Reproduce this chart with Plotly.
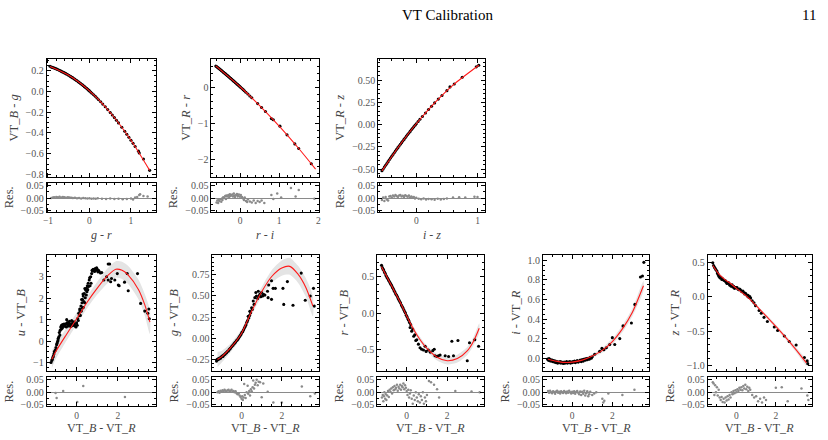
import plotly.graph_objects as go

W, H = 828, 440
FONT = "Liberation Serif, DejaVu Serif, serif"

# ---------------- data ----------------
# Panel 1: g - r  vs  VT_B - g
p1_x = [-0.95,-0.92,-0.9,-0.88,-0.85,-0.83,-0.8,-0.78,-0.75,-0.72,-0.7,-0.68,-0.65,-0.62,-0.6,-0.57,-0.55,-0.52,-0.5,-0.47,-0.45,-0.42,-0.4,-0.37,-0.35,-0.32,-0.3,-0.27,-0.25,-0.22,-0.2,-0.17,-0.15,-0.12,-0.1,-0.07,-0.05,-0.02,0,0.03,0.06,0.1,0.14,0.18,0.22,0.27,0.32,0.38,0.44,0.5,0.55,0.6,0.65,0.7,0.78,0.85,0.9,0.95,1.0,1.05,1.1,1.18,1.2,1.3,1.45]
p1_y = [0.242,0.235,0.232,0.229,0.225,0.222,0.217,0.213,0.208,0.202,0.198,0.194,0.188,0.182,0.178,0.171,0.167,0.160,0.155,0.148,0.142,0.135,0.130,0.122,0.116,0.108,0.102,0.093,0.087,0.078,0.072,0.063,0.056,0.046,0.040,0.030,0.023,0.012,0.005,-0.006,-0.017,-0.032,-0.047,-0.063,-0.080,-0.100,-0.122,-0.148,-0.175,-0.203,-0.227,-0.252,-0.277,-0.303,-0.345,-0.384,-0.412,-0.441,-0.470,-0.500,-0.530,-0.575,-0.593,-0.650,-0.760]
p1_fit_x = [-0.95,-0.5,0.0,0.5,1.0,1.45]
p1_fit_y = [0.239,0.155,0.005,-0.203,-0.470,-0.760]
p1_res_x = [-0.92,-0.88,-0.85,-0.8,-0.76,-0.72,-0.68,-0.64,-0.6,-0.56,-0.52,-0.48,-0.44,-0.4,-0.35,-0.3,-0.25,-0.2,-0.15,-0.1,-0.05,0,0.05,0.1,0.15,0.2,0.3,0.4,0.5,0.6,0.7,0.8,0.9,1.0,1.05,1.1,1.15,1.2,1.22,1.3,1.4]
p1_res_y = [0.0,0.002,0.003,0.004,0.003,0.005,0.002,0.004,0.003,0.001,0.003,0.002,0.001,0.0,0.001,-0.001,0.0,-0.002,0.0,-0.001,-0.002,-0.001,-0.003,-0.002,-0.003,-0.001,-0.003,-0.004,-0.002,-0.004,-0.003,-0.005,-0.004,-0.002,-0.006,0.002,0.004,0.012,0.015,0.008,0.006]

# Panel 2: r - i  vs  VT_R - r
p2_x = [-0.62,-0.6,-0.58,-0.56,-0.54,-0.52,-0.5,-0.48,-0.46,-0.44,-0.42,-0.4,-0.38,-0.36,-0.34,-0.32,-0.3,-0.28,-0.26,-0.24,-0.22,-0.2,-0.18,-0.16,-0.14,-0.12,-0.1,-0.08,-0.06,-0.04,-0.02,0,0.02,0.05,0.08,0.11,0.15,0.2,0.25,0.3,0.45,0.55,0.65,0.8,0.85,1.02,1.2,1.4,1.5,1.82]
p2_y = [0.602,0.584,0.566,0.549,0.531,0.513,0.495,0.477,0.459,0.441,0.422,0.404,0.386,0.367,0.348,0.330,0.311,0.292,0.273,0.254,0.235,0.216,0.197,0.177,0.158,0.139,0.119,0.099,0.080,0.060,0.040,0.020,0.0,-0.030,-0.061,-0.091,-0.132,-0.184,-0.236,-0.289,-0.450,-0.560,-0.672,-0.870,-0.902,-1.080,-1.324,-1.576,-1.705,-2.131]
p2_fit_x = [-0.62,0.0,0.5,1.0,1.5,1.93]
p2_fit_y = [0.602,0.02,-0.505,-1.08,-1.705,-2.28]
p2_res_x = [-0.6,-0.58,-0.56,-0.55,-0.53,-0.5,-0.48,-0.46,-0.45,-0.43,-0.4,-0.38,-0.36,-0.35,-0.33,-0.3,-0.28,-0.26,-0.25,-0.23,-0.2,-0.18,-0.16,-0.15,-0.13,-0.1,-0.08,-0.06,-0.05,-0.03,0,0.02,0.05,0.08,0.1,0.12,0.15,0.18,0.2,0.25,0.3,0.35,0.4,0.45,0.5,0.55,0.62,0.8,0.85,0.95,1.05,1.3,1.42,1.5,1.9]
p2_res_y = [-0.018,-0.01,-0.02,-0.008,-0.012,-0.005,-0.015,-0.002,-0.008,0.003,0.0,0.008,-0.004,0.01,0.006,0.012,0.004,0.015,0.008,0.01,0.014,0.006,0.018,0.01,0.004,0.012,0.016,0.006,0.01,0.014,0.005,0.012,0.004,-0.002,-0.008,0.002,-0.012,-0.016,-0.006,-0.014,-0.018,-0.01,-0.02,-0.012,-0.016,-0.01,-0.02,0.012,-0.004,0.018,0.002,0.04,0.006,0.032,-0.003]

# Panel 3: i - z  vs  VT_R - z
p3_x = [-0.56,-0.54,-0.52,-0.5,-0.48,-0.46,-0.44,-0.42,-0.4,-0.38,-0.36,-0.34,-0.32,-0.3,-0.28,-0.26,-0.24,-0.22,-0.2,-0.18,-0.16,-0.14,-0.12,-0.1,-0.08,-0.06,-0.04,-0.02,0,0.03,0.06,0.1,0.15,0.2,0.25,0.3,0.36,0.42,0.5,0.55,0.62,0.75,0.98,1.02]
p3_y = [-0.520,-0.499,-0.478,-0.458,-0.437,-0.417,-0.396,-0.376,-0.356,-0.337,-0.317,-0.298,-0.278,-0.259,-0.240,-0.221,-0.203,-0.184,-0.166,-0.147,-0.129,-0.111,-0.094,-0.076,-0.058,-0.041,-0.024,-0.007,0.010,0.035,0.060,0.092,0.132,0.170,0.208,0.245,0.288,0.329,0.383,0.425,0.458,0.533,0.651,0.669]
p3_fit_x = [-0.56,-0.25,0.0,0.3,0.6,1.02]
p3_fit_y = [-0.52,-0.212,0.01,0.245,0.446,0.669]
p3_res_x = [-0.56,-0.54,-0.52,-0.5,-0.48,-0.46,-0.44,-0.42,-0.4,-0.38,-0.36,-0.34,-0.32,-0.3,-0.28,-0.26,-0.24,-0.22,-0.2,-0.18,-0.16,-0.14,-0.12,-0.1,-0.08,-0.06,-0.04,-0.02,0,0.04,0.08,0.12,0.16,0.2,0.25,0.3,0.35,0.4,0.45,0.5,0.6,0.7,0.8,0.95,1.0]
p3_res_y = [-0.008,0.002,-0.012,0.004,-0.006,-0.01,0.006,0.008,0.002,0.01,0.006,0.012,0.008,0.004,0.01,0.012,0.006,0.009,0.004,0.011,0.008,0.005,0.01,0.003,0.006,0.002,0.004,-0.002,0.001,-0.003,-0.005,-0.002,-0.006,-0.004,-0.005,-0.007,-0.003,-0.006,-0.004,-0.002,0.002,0.003,0.002,0.005,0.004]

# Panel 4: VT_B - VT_R  vs  u - VT_B
p4_x = [-1.24,-1.2,-1.18,-1.15,-1.13,-1.1,-1.08,-1.05,-1.02,-1.0,-0.97,-0.95,-0.92,-0.9,-0.89,-0.86,-0.84,-0.81,-0.8,-0.77,-0.75,-0.73,-0.7,-0.68,-0.65,-0.61,-0.58,-0.56,-0.52,-0.5,-0.48,-0.45,-0.42,-0.4,-0.37,-0.35,-0.32,-0.29,-0.26,-0.24,-0.21,-0.19,-0.16,-0.13,-0.1,-0.07,-0.03,0.0,0.03,0.05,0.08,0.1,0.13,0.15,0.16,0.18,0.21,0.23,0.24,0.26,0.28,0.29,0.31,0.32,0.32,0.35,0.37,0.39,0.4,0.42,0.45,0.47,0.48,0.5,0.52,0.54,0.56,0.58,0.61,0.63,0.65,0.68,0.7,0.73,0.75,0.77,0.8,0.84,0.87,0.9,0.93,0.97,1.0,1.03,1.06,1.1,1.16,1.22,1.32,1.45,1.53,1.6,1.53,1.65,1.69,1.85,1.97,2.02,2.06,2.32,2.45,2.5,2.95,3.1,3.3,3.45,3.52,3.5]
p4_y = [-1.0,-0.9,-0.85,-0.75,-0.7,-0.6,-0.5,-0.45,-0.4,-0.3,-0.17,-0.1,-0.02,0.05,0.13,0.2,0.4,0.28,0.5,0.66,0.55,0.74,0.6,0.77,0.68,0.8,0.7,0.74,0.81,0.66,1.0,0.86,0.7,0.77,0.85,0.92,0.74,0.68,0.8,0.96,0.72,0.86,0.74,0.9,0.8,0.7,0.66,0.85,0.74,1.05,0.96,1.3,1.19,1.5,1.42,1.2,1.64,1.4,1.94,1.79,1.55,1.94,2.2,1.57,2.1,1.85,2.22,1.79,2.45,2.02,2.37,2.15,2.47,2.3,2.58,2.4,2.7,2.55,2.85,2.95,2.58,3.0,2.7,3.15,3.3,3.27,3.35,3.3,3.25,3.38,3.3,3.42,3.35,3.23,3.3,3.23,3.18,3.2,2.85,3.0,3.6,3.6,2.85,2.77,2.92,2.85,3.15,2.62,2.58,2.75,3.15,2.35,3.15,1.76,1.4,1.3,1.04,1.5]
p4_fit_x = [-1.2,-1.0,-0.5,0.0,0.5,1.0,1.5,1.9,2.2,2.5,3.0,3.3,3.55]
p4_fit_y = [-0.85,-0.47,0.3,1.04,1.8,2.47,3.05,3.35,3.3,3.08,2.4,1.7,0.89]
p4_fit_err = [0.4,0.35,0.3,0.28,0.28,0.3,0.35,0.38,0.4,0.42,0.46,0.5,0.55]
p4_res_x = [-1.02,-0.97,-0.65,0.32,0.03,2.34]
p4_res_y = [-0.003,-0.022,0.005,0.025,-0.038,-0.018]

# Panel 5: VT_B - VT_R  vs  g - VT_B
p5_x = [-1.25,-1.22,-1.18,-1.15,-1.12,-1.08,-1.05,-1.0,-0.97,-0.93,-0.9,-0.86,-0.82,-0.78,-0.75,-0.7,-0.66,-0.62,-0.58,-0.55,-0.5,-0.46,-0.42,-0.38,-0.34,-0.3,-0.26,-0.22,-0.18,-0.14,-0.1,-0.06,-0.02,0.02,0.06,0.1,0.14,0.18,0.22,0.26,0.3,0.33,0.36,0.4,0.41,0.45,0.5,0.53,0.58,0.62,0.66,0.71,0.74,0.8,0.83,0.88,0.91,0.96,0.99,1.05,1.09,1.16,1.29,1.32,1.35,1.49,1.49,1.57,1.68,2.06,2.1,2.28,2.56,2.97,3.17,3.42,3.58,3.62]
p5_y = [-0.27,-0.25,-0.255,-0.24,-0.245,-0.23,-0.235,-0.22,-0.21,-0.215,-0.2,-0.195,-0.185,-0.175,-0.17,-0.155,-0.15,-0.135,-0.125,-0.115,-0.1,-0.09,-0.08,-0.065,-0.055,-0.045,-0.03,-0.02,-0.01,0.005,0.02,0.035,0.05,0.07,0.08,0.1,0.12,0.14,0.16,0.19,0.21,0.26,0.24,0.27,0.32,0.3,0.36,0.34,0.44,0.4,0.48,0.54,0.5,0.47,0.556,0.5,0.52,0.49,0.54,0.5,0.52,0.51,0.556,0.48,0.63,0.68,0.46,0.59,0.59,0.59,0.4,0.67,0.39,0.77,0.45,0.5,0.59,0.38]
p5_fit_x = [-1.2,-1.0,-0.5,0.0,0.5,1.0,1.5,2.0,2.4,2.8,3.2,3.55]
p5_fit_y = [-0.25,-0.22,-0.1,0.06,0.32,0.55,0.73,0.83,0.85,0.76,0.6,0.38]
p5_fit_err = [0.09,0.07,0.05,0.045,0.045,0.055,0.075,0.09,0.1,0.1,0.11,0.12]
p5_res_x = [-1.2,-1.15,-1.1,-1.05,-1.0,-0.95,-0.9,-0.85,-0.8,-0.75,-0.7,-0.65,-0.6,-0.55,-0.5,-0.45,-0.4,-0.35,-0.3,-0.25,-0.2,-0.15,-0.1,-0.05,0.0,0.03,0.06,0.1,0.13,0.16,0.2,0.25,0.3,0.33,0.38,0.42,0.46,0.5,0.55,0.58,0.62,0.66,0.7,0.75,0.8,0.85,0.92,1.0,1.08,1.3,1.58,2.0,3.0,3.42,3.65]
p5_res_y = [0.0,0.004,-0.002,0.006,0.002,0.008,0.004,0.01,0.006,0.002,0.008,0.01,0.004,0.006,0.01,0.003,0.005,0.0,0.004,-0.004,-0.008,-0.004,-0.012,-0.018,-0.025,-0.015,-0.03,-0.02,0.033,-0.01,-0.022,0.0,0.026,-0.006,0.005,-0.012,0.012,0.004,0.02,0.047,0.015,0.03,0.038,0.05,0.028,0.042,0.04,-0.019,0.035,0.002,-0.04,-0.04,0.023,-0.015,-0.005]

# Panel 6: VT_B - VT_R  vs  r - VT_B
p6_x = [-1.24,-1.2,-1.17,-1.14,-1.1,-1.06,-1.02,-0.98,-0.94,-0.9,-0.86,-0.82,-0.78,-0.74,-0.7,-0.66,-0.62,-0.58,-0.54,-0.5,-0.46,-0.42,-0.38,-0.34,-0.3,-0.26,-0.22,-0.18,-0.14,-0.1,-0.06,-0.02,0.02,0.06,0.1,0.14,0.17,0.2,0.25,0.3,0.35,0.4,0.45,0.5,0.58,0.66,0.74,0.83,0.91,0.96,1.07,1.16,1.29,1.36,1.4,1.49,1.57,1.65,1.9,2.07,2.23,2.31,2.53,2.99,3.1,3.36,3.55]
p6_y = [0.66,0.63,0.61,0.6,0.57,0.55,0.52,0.5,0.48,0.46,0.44,0.42,0.4,0.38,0.355,0.335,0.31,0.29,0.265,0.25,0.23,0.2,0.18,0.16,0.14,0.11,0.09,0.07,0.045,0.02,0.0,-0.03,-0.05,-0.08,-0.1,-0.13,-0.2,-0.16,-0.25,-0.22,-0.32,-0.3,-0.38,-0.37,-0.43,-0.48,-0.5,-0.51,-0.46,-0.53,-0.51,-0.54,-0.52,-0.5,-0.59,-0.6,-0.59,-0.58,-0.59,-0.6,-0.39,-0.59,-0.38,-0.66,-0.41,-0.37,-0.46]
p6_fit_x = [-1.24,-0.75,-0.3,0.0,0.5,1.0,1.5,2.0,2.5,3.0,3.3,3.58]
p6_fit_y = [0.64,0.38,0.14,-0.04,-0.3,-0.49,-0.61,-0.66,-0.63,-0.52,-0.39,-0.21]
p6_fit_err = [0.05,0.035,0.03,0.03,0.035,0.04,0.045,0.05,0.055,0.055,0.06,0.065]
p6_res_x = [-1.22,-1.18,-1.15,-1.12,-1.1,-1.06,-1.03,-1.0,-0.96,-0.92,-0.88,-0.84,-0.8,-0.76,-0.72,-0.68,-0.64,-0.6,-0.56,-0.52,-0.48,-0.44,-0.4,-0.36,-0.32,-0.28,-0.24,-0.2,-0.16,-0.12,-0.08,-0.04,0.0,0.04,0.08,0.12,0.16,0.2,0.25,0.3,0.35,0.4,0.45,0.5,0.55,0.6,0.65,0.7,0.75,0.8,0.85,0.9,0.95,1.0,1.1,1.2,1.35,1.5,1.6,2.4,3.2,3.6]
p6_res_y = [-0.02,-0.01,-0.035,-0.015,0.0,-0.025,-0.008,-0.03,-0.012,0.005,-0.018,0.01,0.002,0.015,-0.005,0.02,0.008,0.025,0.012,0.018,0.03,0.006,0.022,0.015,0.03,0.01,0.025,0.02,0.035,0.012,0.028,0.018,0.005,-0.01,0.01,-0.02,-0.005,0.008,-0.025,-0.045,-0.012,-0.03,0.0,-0.02,-0.035,-0.008,-0.04,-0.015,-0.03,0.0,-0.045,-0.02,-0.035,-0.01,0.045,0.04,0.03,0.012,-0.02,0.005,0.003,0.0]

# Panel 7: VT_B - VT_R  vs  i - VT_R
p7_x = [-1.22,-1.18,-1.15,-1.12,-1.08,-1.05,-1.0,-0.96,-0.92,-0.88,-0.84,-0.8,-0.76,-0.72,-0.68,-0.64,-0.6,-0.56,-0.52,-0.48,-0.44,-0.4,-0.36,-0.32,-0.28,-0.24,-0.2,-0.16,-0.12,-0.08,-0.04,0.0,0.04,0.08,0.12,0.16,0.2,0.25,0.3,0.35,0.4,0.45,0.5,0.55,0.6,0.65,0.7,0.75,0.8,0.85,0.9,0.95,1.0,1.12,1.37,1.48,1.58,1.7,1.87,2.0,2.12,2.37,2.53,2.95,3.12,3.4,3.5,3.57]
p7_y = [-0.01,-0.02,-0.005,-0.025,-0.015,-0.03,-0.02,-0.035,-0.025,-0.04,-0.03,-0.045,-0.035,-0.05,-0.04,-0.045,-0.035,-0.05,-0.04,-0.045,-0.055,-0.04,-0.05,-0.045,-0.035,-0.05,-0.04,-0.045,-0.035,-0.05,-0.04,-0.045,-0.035,-0.04,-0.03,-0.045,-0.035,-0.025,-0.04,-0.03,-0.02,-0.035,-0.015,-0.03,-0.01,-0.02,-0.005,-0.015,0.0,-0.01,0.01,0.0,0.015,0.04,0.07,0.1,0.086,0.106,0.14,0.21,0.14,0.2,0.33,0.36,0.55,0.83,0.84,0.98]
p7_fit_x = [-1.2,-0.8,-0.4,0.0,0.5,1.0,1.5,2.0,2.5,3.0,3.55]
p7_fit_y = [-0.01,-0.03,-0.043,-0.04,-0.02,0.023,0.08,0.17,0.3,0.47,0.74]
p7_fit_err = [0.02,0.016,0.014,0.014,0.016,0.02,0.025,0.03,0.035,0.04,0.05]
p7_res_x = [-1.2,-1.15,-1.1,-1.05,-1.0,-0.95,-0.9,-0.85,-0.8,-0.75,-0.7,-0.65,-0.6,-0.55,-0.5,-0.45,-0.4,-0.35,-0.3,-0.25,-0.2,-0.15,-0.1,-0.05,0.0,0.05,0.1,0.15,0.2,0.25,0.3,0.35,0.4,0.45,0.5,0.55,0.6,0.65,0.7,0.75,0.8,0.85,0.9,1.0,1.1,1.2,1.5,1.55,1.6,1.8,2.5,3.1]
p7_res_y = [0.005,-0.002,0.006,0.0,-0.004,0.004,0.001,-0.006,0.003,0.006,-0.002,0.002,-0.005,0.004,0.0,-0.003,0.005,0.001,-0.004,0.003,-0.002,0.006,0.0,-0.005,0.002,-0.003,0.004,-0.006,0.001,0.005,-0.002,-0.008,0.003,-0.01,0.002,-0.006,0.006,-0.012,-0.004,0.004,-0.015,-0.008,0.002,-0.01,-0.005,0.0,-0.025,-0.04,-0.033,-0.005,-0.01,0.01]

# Panel 8: VT_B - VT_R  vs  z - VT_R
p8_x = [-1.2,-1.16,-1.12,-1.08,-1.04,-0.99,-0.96,-0.93,-0.9,-0.85,-0.82,-0.79,-0.74,-0.7,-0.65,-0.6,-0.56,-0.52,-0.48,-0.44,-0.39,-0.35,-0.31,-0.27,-0.22,-0.18,-0.14,-0.1,-0.05,-0.01,0.03,0.08,0.12,0.16,0.2,0.25,0.29,0.33,0.38,0.42,0.46,0.5,0.55,0.59,0.63,0.68,0.72,0.8,0.89,0.97,1.15,1.26,1.4,1.57,1.92,2.09,2.43,2.68,3.03,3.45,3.59,3.62]
p8_y = [0.49,0.45,0.43,0.41,0.39,0.37,0.34,0.32,0.3,0.28,0.27,0.28,0.25,0.26,0.24,0.23,0.23,0.21,0.19,0.2,0.2,0.17,0.17,0.15,0.17,0.14,0.15,0.12,0.13,0.13,0.13,0.11,0.1,0.11,0.1,0.08,0.07,0.08,0.06,0.04,0.05,0.03,0.01,0.02,-0.01,0.0,-0.02,-0.06,-0.09,-0.13,-0.2,-0.24,-0.3,-0.36,-0.44,-0.49,-0.57,-0.65,-0.7,-0.88,-0.93,-0.97]
p8_fit_x = [-1.2,-0.9,-0.6,-0.3,0.0,0.5,1.0,1.5,2.0,2.5,3.0,3.55]
p8_fit_y = [0.45,0.33,0.25,0.19,0.12,0.01,-0.13,-0.28,-0.43,-0.59,-0.76,-0.96]
p8_fit_err = [0.03,0.022,0.017,0.015,0.015,0.016,0.02,0.024,0.028,0.03,0.035,0.04]
p8_res_x = [-1.2,-1.16,-1.12,-1.08,-1.04,-0.99,-0.95,-0.9,-0.85,-0.8,-0.75,-0.7,-0.65,-0.6,-0.55,-0.5,-0.45,-0.4,-0.35,-0.3,-0.25,-0.2,-0.15,-0.1,-0.05,0.0,0.05,0.1,0.15,0.2,0.25,0.3,0.35,0.4,0.45,0.5,0.55,0.6,0.65,0.7,0.8,0.9,1.0,1.1,1.2,1.3,1.4,1.5,2.0,2.3,2.6,3.3,3.6,3.65]
p8_res_y = [0.04,0.035,-0.01,0.028,0.0,0.02,-0.012,0.01,-0.02,-0.03,-0.018,-0.038,-0.025,-0.04,-0.02,-0.032,-0.015,-0.028,-0.01,-0.02,0.0,-0.008,0.005,-0.004,0.008,0.0,0.012,0.005,0.018,0.01,0.02,0.008,0.025,0.015,0.03,0.012,0.022,0.005,0.018,0.01,-0.01,-0.02,-0.015,-0.035,-0.025,-0.04,-0.02,-0.03,0.018,0.02,-0.035,0.015,-0.012,-0.03]

# labels
x_labels = ["<i>g</i> - <i>r</i>", "<i>r</i> - <i>i</i>", "<i>i</i> - <i>z</i>"] + ["VT_<i>B</i> - VT_<i>R</i>"] * 5
y_labels = ["VT_<i>B</i> - <i>g</i>", "VT_<i>R</i> - <i>r</i>", "VT_<i>R</i> - <i>z</i>",
            "<i>u</i> - VT_<i>B</i>", "<i>g</i> - VT_<i>B</i>", "<i>r</i> - VT_<i>B</i>",
            "<i>i</i> - VT_<i>R</i>", "<i>z</i> - VT_<i>R</i>"]
res_ticks = [-0.05, 0.0, 0.05]

# ---------------- layout geometry (pixels) ----------------
panels = [
    dict(d=(p1_x, p1_y, p1_fit_x, p1_fit_y, None, p1_res_x, p1_res_y), col=(43, 153), row=0,
         xr=[-1.03, 1.6], yr=[-0.82, 0.31], xt=[-1, 0, 1], xm=0.2, yt=[-0.8, -0.6, -0.4, -0.2, 0.0, 0.2], ym=0.05, yf=".1f"),
    dict(d=(p2_x, p2_y, p2_fit_x, p2_fit_y, None, p2_res_x, p2_res_y), col=(209, 317), row=0,
         xr=[-0.73, 2.01], yr=[-2.49, 0.79], xt=[0, 1, 2], xm=0.2, yt=[-2, -1, 0], ym=0.2, yf="d"),
    dict(d=(p3_x, p3_y, p3_fit_x, p3_fit_y, None, p3_res_x, p3_res_y), col=(377, 485), row=0,
         xr=[-0.62, 1.13], yr=[-0.585, 0.737], xt=[0, 1], xm=0.2, yt=[-0.5, -0.25, 0, 0.25, 0.5], ym=0.05, yf=".2f"),
    dict(d=(p4_x, p4_y, p4_fit_x, p4_fit_y, p4_fit_err, p4_res_x, p4_res_y), col=(43, 153), row=1,
         xr=[-1.45, 3.84], yr=[-1.39, 4.04], xt=[0, 2], xm=0.5, yt=[-1, 0, 1, 2, 3], ym=0.25, yf="d"),
    dict(d=(p5_x, p5_y, p5_fit_x, p5_fit_y, p5_fit_err, p5_res_x, p5_res_y), col=(210, 317), row=1,
         xr=[-1.45, 3.84], yr=[-0.386, 0.99], xt=[0, 2], xm=0.5, yt=[-0.25, 0, 0.25, 0.5, 0.75], ym=0.05, yf=".2f"),
    dict(d=(p6_x, p6_y, p6_fit_x, p6_fit_y, p6_fit_err, p6_res_x, p6_res_y), col=(376, 484), row=1,
         xr=[-1.45, 3.84], yr=[-0.8, 0.81], xt=[0, 2], xm=0.5, yt=[-0.5, 0, 0.5], ym=0.1, yf=".1f"),
    dict(d=(p7_x, p7_y, p7_fit_x, p7_fit_y, p7_fit_err, p7_res_x, p7_res_y), col=(543, 650), row=1,
         xr=[-1.45, 3.84], yr=[-0.13, 1.06], xt=[0, 2], xm=0.5, yt=[0, 0.2, 0.4, 0.6, 0.8, 1.0], ym=0.05, yf=".1f"),
    dict(d=(p8_x, p8_y, p8_fit_x, p8_fit_y, p8_fit_err, p8_res_x, p8_res_y), col=(709, 814), row=1,
         xr=[-1.45, 3.84], yr=[-1.075, 0.61], xt=[0, 2], xm=0.5, yt=[-1.0, -0.5, 0, 0.5], ym=0.1, yf=".1f"),
]
rows = [dict(main=(58, 177), res=(183, 213), xfont=9.5),
        dict(main=(256, 374), res=(380, 410), xfont=9.5)]

def xdom(c):
    return [c[0] / W, c[1] / W]

def ydom(r):
    return [1 - r[1] / H, 1 - r[0] / H]

fig = go.Figure()
tickfont = dict(family=FONT, size=10, color="#555555")
titlefont = dict(family=FONT, size=12.5, color="#444444")
base_axis = dict(showline=True, linecolor="black", linewidth=1, mirror="allticks",
                 ticks="inside", ticklen=4, tickwidth=1, tickcolor="black",
                 showgrid=False, zeroline=False, tickfont=tickfont)

layout_axes = {}
annotations = [
    dict(text="VT Calibration", x=447 / W, y=1 - 13 / H, xref="paper", yref="paper",
         showarrow=False, font=dict(family=FONT, size=15, color="black"), xanchor="center", yanchor="middle"),
    dict(text="11", x=811 / W, y=1 - 13 / H, xref="paper", yref="paper",
         showarrow=False, font=dict(family=FONT, size=15, color="black"), xanchor="center", yanchor="middle"),
]
for i, p in enumerate(panels):
    xs, ys, fx, fy, ferr, rx, ry = p["d"]
    m = 2 * i + 1
    r = 2 * i + 2
    mx, my = f"x{m}", f"y{m}"
    rxn, ryn = f"x{r}", f"y{r}"
    # confidence band
    if ferr is not None:
        up = [a + b for a, b in zip(fy, ferr)]
        lo = [a - b for a, b in zip(fy, ferr)]
        fig.add_trace(go.Scatter(x=list(fx) + list(fx)[::-1], y=up + lo[::-1], mode="lines",
                                 fill="toself", fillcolor="#e4e4e4",
                                 line=dict(width=0, color="#e4e4e4", shape="spline", smoothing=0.7),
                                 hoverinfo="skip", showlegend=False, xaxis=mx, yaxis=my))
    # data points
    fig.add_trace(go.Scatter(x=xs, y=ys, mode="markers",
                             marker=dict(size=3.1, color="black", symbol="circle"),
                             showlegend=False, xaxis=mx, yaxis=my))
    # fit line
    fig.add_trace(go.Scatter(x=fx, y=fy, mode="lines",
                             line=dict(color="#ff1a1a", width=1.1, shape="spline", smoothing=0.7),
                             showlegend=False, xaxis=mx, yaxis=my))
    # residuals
    fig.add_trace(go.Scatter(x=rx, y=ry, mode="markers",
                             marker=dict(size=2.5, color="#8a8a8a"),
                             showlegend=False, xaxis=rxn, yaxis=ryn))

    row = rows[p["row"]]
    minor_x = dict(ticks="inside", ticklen=2, tickcolor="black", dtick=p["xm"])
    layout_axes[f"xaxis{m}"] = dict(base_axis, domain=xdom(p["col"]), range=p["xr"], anchor=my,
                                    tickvals=p["xt"], showticklabels=False, minor=minor_x)
    layout_axes[f"yaxis{m}"] = dict(base_axis, domain=ydom(row["main"]), range=p["yr"], anchor=mx,
                                    tickvals=p["yt"], tickformat=p["yf"],
                                    minor=dict(ticks="inside", ticklen=2, tickcolor="black", dtick=p["ym"]),
                                    title=dict(text=y_labels[i], font=titlefont, standoff=4))
    layout_axes[f"xaxis{r}"] = dict(base_axis, domain=xdom(p["col"]), range=p["xr"], anchor=ryn,
                                    tickvals=p["xt"], minor=minor_x,
                                    tickfont=dict(family=FONT, size=row["xfont"], color="#555555"))
    layout_axes[f"yaxis{r}"] = dict(base_axis, domain=ydom(row["res"]), range=[-0.056, 0.062], anchor=rxn,
                                    tickvals=res_ticks, tickformat=".2f",
                                    zeroline=True, zerolinecolor="#8a8a8a", zerolinewidth=1,
                                    minor=dict(ticks="inside", ticklen=2, tickcolor="black", dtick=0.025),
                                    title=dict(text="Res.", font=titlefont, standoff=4))
    if p["row"] == 0:
        annotations.append(dict(text=x_labels[i], x=(p["col"][0] + p["col"][1]) / 2 / W, y=1 - 228 / H,
                                xref="paper", yref="paper", showarrow=False,
                                font=dict(family=FONT, size=12, color="#444444"),
                                xanchor="center", yanchor="top", borderpad=0))
    else:
        annotations.append(dict(text=x_labels[i], x=(p["col"][0] + p["col"][1]) / 2 / W, y=0,
                                xref="paper", yref="paper", showarrow=False,
                                font=dict(family=FONT, size=12, color="#444444"),
                                xanchor="center", yanchor="bottom", borderpad=0))

fig.update_layout(
    width=W, height=H,
    margin=dict(l=0, r=0, t=0, b=0),
    paper_bgcolor="white", plot_bgcolor="white",
    font=dict(family=FONT, color="#333333"),
    annotations=annotations,
    **layout_axes,
)

fig.write_html("out.html")
